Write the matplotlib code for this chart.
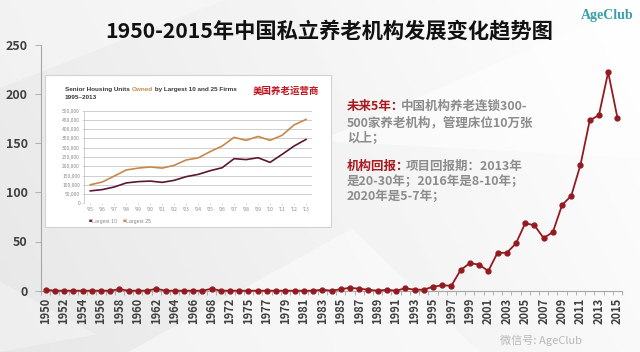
import numpy as np
import matplotlib
matplotlib.use('Agg')
import matplotlib.pyplot as plt
from matplotlib.patches import Rectangle, Polygon

plt.rcParams['font.family'] = ['Noto Sans CJK SC', 'DejaVu Sans']

# ---- data ----
year_labels = (
    [str(y) for y in range(1950, 1969)] + ['1970', '1972', '1974'] +
    [str(y) for y in range(1975, 2016)]
)
homes_count = [
    1, 0, 0, 0, 0, 0, 0, 0, 1.5, 0, 0, 0, 2, 0, 0, 0, 0, 0, 2,   # 1950-1968
    0, 0, 0,                                                      # 1970, 1972, 1974
    0, 0, 0, 0, 0, 0, 0, 0,                                       # 1975-1982
    1, 0, 1.5, 3, 2, 1, 0, 1, 0, 2.5, 1, 1, 4, 5.5, 5,            # 1983-1997
    21, 28, 26.5, 20, 38.5, 38.5, 48, 68.5, 66.5, 53.5, 59.5,     # 1998-2008
    87, 96.5, 128, 173, 178.5, 222, 176,                          # 2009-2015
]

us_years = ["'95", "'96", "'97", "'98", "'99", "'00", "'01", "'02", "'03", "'04",
            "'05", "'06", "'07", "'08", "'09", "'10", "'11", "'12", "'13"]
largest_10 = [67000, 74000, 88000, 110000, 117000, 120000, 113000, 124000, 144000, 156000,
              176000, 192000, 241000, 236000, 246000, 221000, 264000, 309000, 345000]
largest_25 = [100000, 115000, 147000, 180000, 190000, 196000, 190000, 205000, 234000, 245000,
              279000, 309000, 356000, 340000, 361000, 340000, 367000, 423000, 453000]

W, H = 640, 352
def fx(px):
    return px / W
def fy(py):
    return 1 - py / H

red = '#931A20'
dark = '#404040'

fig = plt.figure(figsize=(6.4, 3.52), dpi=100)

# ---- background: soft grey gradient with pale facets ----
bg = fig.add_axes([0, 0, 1, 1], zorder=-10)
bg.axis('off')
xx, yy = np.meshgrid(np.linspace(0, 1, 200), np.linspace(0, 1, 120))
grad = 0.905 + 0.07 * xx + 0.02 * yy
bg.imshow(np.clip(grad, 0, 1), cmap='gray', vmin=0, vmax=1, extent=[0, 1, 0, 1],
          aspect='auto', origin='lower')
for pts, a in [
    ([(0.0, 0.75), (0.35, 1.0), (0.0, 1.0)], 0.35),
    ([(0.2, 0.0), (0.55, 0.35), (0.75, 0.0)], 0.45),
    ([(0.5, 0.6), (1.0, 1.0), (1.0, 0.55)], 0.5),
    ([(0.0, 0.2), (0.15, 0.05), (0.0, 0.0)], 0.3),
]:
    bg.add_patch(Polygon(pts, closed=True, facecolor='white', edgecolor='none', alpha=a))
bg.set_xlim(0, 1)
bg.set_ylim(0, 1)

# ---- main chart ----
ax = fig.add_axes([fx(41), fy(290.7), fx(622 - 41), (290.7 - 44.7) / H])
ax.set_facecolor('none')
x = np.arange(len(year_labels))
ax.plot(x, homes_count, color=red, lw=1.3, marker='o', ms=3.5, clip_on=False, zorder=3)
ax.set_xlim(-0.5, len(year_labels) - 0.5)
ax.set_ylim(0, 250)
ax.set_yticks(range(0, 251, 50))
ax.set_xticks(x[::2])
ax.set_xticklabels(year_labels[::2], rotation=90, fontsize=8, fontweight='bold', color=dark)
ax.set_xticks(np.arange(-0.5, len(year_labels), 1), minor=True)
ax.tick_params(axis='x', which='major', length=0, pad=5)
ax.tick_params(axis='x', which='minor', length=3, color='#A6A6A6', width=0.6)
ax.tick_params(axis='y', length=4, color='#A6A6A6', width=0.6, labelsize=9,
               labelcolor=dark, pad=5.5)
for lab in ax.get_yticklabels():
    lab.set_fontweight('bold')
for s in ['top', 'right']:
    ax.spines[s].set_visible(False)
for s in ['left', 'bottom']:
    ax.spines[s].set_color('#A6A6A6')
    ax.spines[s].set_linewidth(0.8)

# ---- inset: US senior housing chart ----
box = Rectangle((fx(45), fy(227)), fx(286), 152 / H, transform=fig.transFigure,
                facecolor='white', edgecolor='#D2D2D2', lw=0.8, zorder=1)
fig.add_artist(box)

ax2 = fig.add_axes([fx(84.3), fy(203.3), fx(312 - 84.3), 92.6 / H], zorder=2)
ax2.set_facecolor('none')
xi = np.arange(len(us_years))
ax2.plot(xi, largest_25, color='#C8874A', lw=1.2)
ax2.plot(xi, largest_10, color='#5A1732', lw=1.2)
ax2.set_xlim(-0.5, len(us_years) - 0.5)
ax2.set_ylim(0, 500000)
ax2.set_yticks(range(0, 500001, 50000))
ax2.set_yticklabels(['0'] + [f'{v:,}' for v in range(50000, 500001, 50000)])
ax2.set_xticks(xi)
ax2.set_xticklabels(us_years)
ax2.tick_params(labelsize=3.6, labelcolor='#8A8A8A', length=1.5, color='#BBBBBB', width=0.4, pad=1.5)
ax2.yaxis.grid(True, color='#C8C8C8', lw=0.6)
ax2.set_axisbelow(True)
for s in ['top', 'right', 'bottom']:
    ax2.spines[s].set_visible(False)
ax2.spines['left'].set_color('#BBBBBB')
ax2.spines['left'].set_linewidth(0.5)

tfont = dict(family='Liberation Sans', fontweight='bold', fontsize=4.6)
t1 = fig.text(fx(65), fy(89.3), 'Senior Housing Units ', color='#3A3A3A', va='center', **tfont)
t2 = ax2.annotate('Owned', xy=(1, 0), xycoords=t1, va='bottom', color='#C8874A',
                  annotation_clip=False, **tfont)
ax2.annotate(' by Largest 10 and 25 Firms', xy=(1, 0), xycoords=t2, va='bottom',
             color='#3A3A3A', annotation_clip=False, **tfont)
fig.text(fx(65), fy(97.5), '1995\u20132013', color='#3A3A3A', va='center', **tfont)
fig.text(fx(286), fy(90.7), '美国养老运营商', color='#C0141C', fontsize=6.8,
         fontweight='bold', ha='center', va='center')

lfont = dict(family='Liberation Sans', fontsize=3.8)
l1 = fig.text(fx(89), fy(221), '\u25a0', color='#5A1732', va='center', **lfont)
ax2.annotate('Largest 10', xy=(1, 0), xycoords=l1, va='bottom', color='#8A8A8A',
             annotation_clip=False, **lfont)
l2 = fig.text(fx(123), fy(221), '\u25a0', color='#C8874A', va='center', **lfont)
ax2.annotate('Largest 25', xy=(1, 0), xycoords=l2, va='bottom', color='#8A8A8A',
             annotation_clip=False, **lfont)

# ---- notes on the right ----
nfont = dict(fontsize=9, fontweight='bold')
grey = '#8C8C8C'
lines = [
    (106.7, '未来5年：', '中国机构养老连锁300-'),
    (122.5, '', '500家养老机构，管理床位10万张'),
    (138.5, '', '以上；'),
    (166.5, '机构回报：', '项目回报期：2013年'),
    (181.5, '', '是20-30年；2016年是8-10年；'),
    (196.5, '', '2020年是5-7年；'),
]
for ypx, head, rest in lines:
    if head:
        h = fig.text(fx(346.7), fy(ypx), head, color='#A8191E', va='center', **nfont)
        ax.annotate(rest, xy=(1, 0), xycoords=h, xytext=(-2.5, 0), textcoords='offset points',
                    va='bottom', color=grey, annotation_clip=False, **nfont)
    else:
        fig.text(fx(346.7), fy(ypx), rest, color=grey, va='center', **nfont)

# ---- title, logo, watermark ----
fig.text(fx(329), fy(32), '1950-2015年中国私立养老机构发展变化趋势图', fontsize=15.3,
         fontweight='bold', color='#111111', ha='center', va='center')
fig.text(fx(607), fy(15), 'AgeClub', family='Liberation Serif', fontweight='bold',
         fontsize=10, color='#3A9FA8', ha='center', va='center')
fig.text(fx(500), fy(340), '微信号: AgeClub', fontsize=8, color='#A8A8A8', alpha=0.8,
         ha='left', va='center')

fig.savefig('out.png', dpi=100)
